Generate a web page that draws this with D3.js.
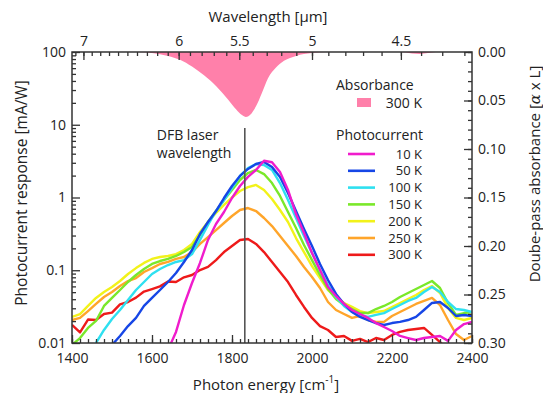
<!DOCTYPE html>
<html>
<head>
<meta charset="utf-8">
<script src="https://cdn.jsdelivr.net/npm/d3@7"></script>
<style>
  body { margin: 0; background: #fff; }
  text { font-family: "Open Sans", sans-serif; fill: #222; }
</style>
</head>
<body>
<div id="chart"></div>
<script>
// photon energy grid [cm^-1]
const wavenumber = [1400,1420,1440,1460,1480,1500,1520,1540,1560,1580,1600,1620,1640,1660,1680,1700,1720,1740,1760,1780,
  1800,1820,1840,1860,1880,1900,1920,1940,1960,1980,2000,2020,2040,2060,2080,2100,2120,2140,2160,2180,
  2200,2220,2240,2260,2280,2300,2320,2340,2360,2380,2400];

// photocurrent response [mA/W]
const pc10K = [null,null,null,null,null,null,null,null,null,null,null,null,
  0.0080,0.0142,0.0333,0.0668,0.126,0.261,0.432,0.632,0.984,1.44,1.92,2.39,3.2,3.05,2.24,1.27,0.593,0.325,
  0.173,0.101,0.0589,0.0443,0.0344,0.0284,0.0250,0.0221,0.0188,0.0166,0.0146,0.0125,0.0117,0.0110,0.0117,0.0121,0.0125,0.0107,0.0151,0.0182,0.0195];
const pc50K = [null,null,null,null,null,0.0094,0.0125,0.0171,0.0221,0.0323,0.0416,0.0535,0.0689,0.0917,0.130,0.190,0.315,0.460,0.652,0.984,
  1.44,1.98,2.47,2.89,3.08,2.62,1.92,1.15,0.652,0.369,0.215,0.122,0.0734,0.0472,0.0344,0.0267,0.0228,0.0207,0.0188,0.0177,
  0.0188,0.0195,0.0207,0.0228,0.0284,0.0355,0.0366,0.0303,0.0235,0.0243,0.0235];
const pc100K = [null,null,null,0.0100,0.0151,0.0214,0.0284,0.0390,0.0535,0.0689,0.0888,0.104,0.118,0.130,0.138,0.167,0.261,0.419,0.652,0.924,
  1.35,1.98,2.54,2.89,2.80,2.39,1.58,0.924,0.523,0.296,0.173,0.101,0.0627,0.0429,0.0323,0.0267,0.0243,0.0228,0.0243,0.0258,
  0.0293,0.0333,0.0378,0.0416,0.0502,0.0589,0.0502,0.0366,0.0293,0.0284,0.0267];
const pc150K = [0.0094,0.0117,0.0161,0.0201,0.0323,0.0416,0.0535,0.0689,0.0861,0.104,0.122,0.134,0.143,0.157,0.178,0.209,0.305,0.460,0.652,0.924,
  1.27,1.74,2.17,2.39,2.10,1.58,1.05,0.632,0.381,0.222,0.138,0.0861,0.0552,0.0402,0.0333,0.0293,0.0258,0.0258,0.0293,0.0323,
  0.0366,0.0429,0.0487,0.0552,0.0627,0.0711,0.0570,0.0355,0.0243,0.0258,0.0267];
const pc200K = [0.0228,0.0250,0.0323,0.0416,0.0502,0.0589,0.0711,0.0888,0.107,0.126,0.143,0.152,0.157,0.167,0.190,0.230,0.336,0.460,0.612,0.789,
  1.00,1.23,1.39,1.49,1.27,0.953,0.673,0.460,0.277,0.178,0.114,0.0782,0.0535,0.0429,0.0355,0.0313,0.0275,0.0258,0.0267,0.0275,
  0.0313,0.0355,0.0402,0.0457,0.0535,0.0607,0.0487,0.0303,0.0221,0.0207,0.0221];
const pc250K = [0.0207,0.0221,0.0275,0.0344,0.0429,0.0502,0.0607,0.0711,0.0782,0.0946,0.107,0.122,0.130,0.143,0.152,0.178,0.230,0.286,0.357,0.446,
  0.557,0.673,0.717,0.652,0.523,0.405,0.296,0.215,0.157,0.111,0.0807,0.0570,0.0366,0.0284,0.0250,0.0221,0.0235,0.0207,0.0195,0.0195,
  0.0235,0.0267,0.0303,0.0344,0.0378,0.0416,0.0333,0.0207,0.0133,0.0110,0.0125];
const pc300K = [0.0177,0.0140,0.0210,0.0207,0.0250,0.0262,0.0340,0.0366,0.0420,0.0510,0.0552,0.0600,0.0700,0.0690,0.0800,0.0860,0.1007,0.111,0.138,0.178,
  0.215,0.261,0.269,0.230,0.178,0.130,0.0946,0.0689,0.0457,0.0313,0.0221,0.0171,0.0151,0.0121,0.0125,0.0107,0.0114,0.0103,0.0117,0.0110,
  0.0129,0.0142,0.0151,0.0156,0.0161,0.0129,0.0103,0.0080,null,null,null];

const seriesNames = ["10 K", "50 K", "100 K", "150 K", "200 K", "250 K", "300 K"];
const seriesValues = [pc10K, pc50K, pc100K, pc150K, pc200K, pc250K, pc300K];
const seriesColors = ["#f01ccc", "#1646e6", "#2ee0f0", "#7ae82a", "#f2f21a", "#ffa52a", "#ee1a1a"];

// absorbance at 300 K (double-pass, alpha x L)
const absWavenumber = [1560,1600,1640,1670,1700,1730,1760,1790,1810,1825,1835,1845,1860,1875,1890,1910,1930,1960,2000,2040,2220,2250,2270,2290,2310];
const absValue = [0,0.001,0.004,0.008,0.015,0.024,0.035,0.049,0.059,0.065,0.067,0.065,0.056,0.042,0.027,0.016,0.009,0.004,0.001,0,0,0.0015,0.002,0.001,0];

const dfbWavenumber = 1832;

// axis ticks
const bottomTicks = [1400,1600,1800,2000,2200,2400];
const leftTicks = [0.01,0.1,1,10,100];
const leftLabels = ["0.01","0.1","1","10","100"];
const rightTicks = [0,0.05,0.10,0.15,0.20,0.25,0.30];
const topWavelengths = [7,6,5.5,5,4.5];
const topLabels = ["7","6","5.5","5","4.5"];

const width = 543, height = 393;
const margin = {top: 52, right: 71, bottom: 50, left: 72};
const plotW = width - margin.left - margin.right;
const plotH = height - margin.top - margin.bottom;

const svg = d3.select("#chart").append("svg")
  .attr("width", width).attr("height", height);

const g = svg.append("g").attr("transform", `translate(${margin.left},${margin.top})`);

const x = d3.scaleLinear().domain([1400, 2400]).range([0, plotW]);
const y = d3.scaleLog().domain([0.01, 100]).range([plotH, 0]);
const yAbs = d3.scaleLinear().domain([0, 0.30]).range([0, plotH]);

g.append("clipPath").attr("id", "clip")
  .append("rect").attr("width", plotW).attr("height", plotH);

const plot = g.append("g").attr("clip-path", "url(#clip)");

// absorbance area hanging from the top axis
const absData = absWavenumber.map((w, i) => ({w: w, v: absValue[i]}));
plot.append("path")
  .datum(absData)
  .attr("fill", "#ff80aa")
  .attr("d", d3.area().x(d => x(d.w)).y0(yAbs(0)).y1(d => yAbs(d.v)).curve(d3.curveMonotoneX));

// DFB laser line
g.append("line")
  .attr("x1", x(dfbWavenumber)).attr("x2", x(dfbWavenumber))
  .attr("y1", y(9)).attr("y2", plotH)
  .attr("stroke", "#555").attr("stroke-width", 1.6);

// photocurrent curves, 300 K drawn first
const line = d3.line()
  .defined(d => d.v != null)
  .x(d => x(d.w)).y(d => y(d.v));

for (let s = seriesValues.length - 1; s >= 0; s--) {
  const pts = wavenumber.map((w, i) => ({w: w, v: seriesValues[s][i]}));
  plot.append("path")
    .datum(pts)
    .attr("fill", "none")
    .attr("stroke", seriesColors[s])
    .attr("stroke-width", 2.4)
    .attr("stroke-linejoin", "round")
    .attr("d", line);
}

// axes
const minorLog = [];
[0.01, 0.1, 1, 10].forEach(dec => { for (let k = 2; k <= 9; k++) minorLog.push(dec * k); });
const minorX = [];
for (let w = 1400; w <= 2400; w += 20) minorX.push(w);
const minorAbs = [];
for (let a = 0; a <= 30; a++) minorAbs.push(a / 100);
const minorTop = [];
for (let l = 71; l >= 42; l--) minorTop.push(1e4 / (l / 10));

function styleAxis(sel) {
  sel.select(".domain").remove();
  sel.selectAll(".tick line").attr("stroke", "#333").attr("stroke-width", 1.3);
  sel.selectAll(".tick text")
    .attr("font-family", "Open Sans, sans-serif")
    .attr("font-size", 14).attr("fill", "#222");
}

g.append("g").call(d3.axisLeft(y).tickValues(minorLog).tickSize(-4).tickFormat("")).call(styleAxis);
g.append("g").call(d3.axisLeft(y).tickValues(leftTicks).tickSize(-8).tickPadding(6)
  .tickFormat((d, i) => leftLabels[i])).call(styleAxis);

g.append("g").attr("transform", `translate(0,${plotH})`)
  .call(d3.axisBottom(x).tickValues(minorX).tickSize(-4).tickFormat("")).call(styleAxis);
g.append("g").attr("transform", `translate(0,${plotH})`)
  .call(d3.axisBottom(x).tickValues(bottomTicks).tickSize(-8).tickPadding(10).tickFormat(d3.format("d"))).call(styleAxis);

g.append("g").attr("transform", `translate(${plotW},0)`)
  .call(d3.axisRight(yAbs).tickValues(minorAbs).tickSize(-4).tickFormat("")).call(styleAxis);
g.append("g").attr("transform", `translate(${plotW},0)`)
  .call(d3.axisRight(yAbs).tickValues(rightTicks).tickSize(-8).tickPadding(6).tickFormat(d3.format(".2f"))).call(styleAxis);

g.append("g")
  .call(d3.axisTop(x).tickValues(minorTop).tickSize(-4).tickFormat("")).call(styleAxis);
g.append("g")
  .call(d3.axisTop(x).tickValues(topWavelengths.map(l => 1e4 / l)).tickSize(-8).tickPadding(6)
    .tickFormat((d, i) => topLabels[i])).call(styleAxis);

g.append("rect")
  .attr("width", plotW).attr("height", plotH)
  .attr("fill", "none").attr("stroke", "#333").attr("stroke-width", 1.5);

// axis titles
svg.append("text")
  .attr("transform", `translate(27,193) rotate(-90)`)
  .attr("text-anchor", "middle").attr("font-size", 15.5)
  .text("Photocurrent response [mA/W]");

svg.append("text")
  .attr("transform", `translate(540,174) rotate(-90)`)
  .attr("text-anchor", "middle").attr("font-size", 15)
  .text("Doube-pass absorbance [")
  .call(t => { t.append("tspan").attr("font-style", "italic").attr("font-family", "DejaVu Serif, serif").text("α"); t.append("tspan").text(" x L]"); });

const xt = svg.append("text")
  .attr("x", 266).attr("y", 390)
  .attr("text-anchor", "middle").attr("font-size", 15)
  .text("Photon energy [cm");
xt.append("tspan").attr("baseline-shift", "super").attr("font-size", 10).text("-1");
xt.append("tspan").text("]");

svg.append("text")
  .attr("x", 268).attr("y", 22)
  .attr("text-anchor", "middle").attr("font-size", 15)
  .text("Wavelength [µm]");

// annotation
const ann = g.append("text").attr("font-size", 14);
ann.append("tspan").attr("x", x(1612)).attr("y", 88).text("DFB laser");
ann.append("tspan").attr("x", x(1612)).attr("y", 106).text("wavelength");

// legend
const legend = g.append("g").attr("transform", "translate(264,0)");
legend.append("text").attr("x", 0).attr("y", 38).attr("font-size", 14).text("Absorbance");
legend.append("rect").attr("x", 21).attr("y", 46).attr("width", 14).attr("height", 9).attr("fill", "#ff80aa");
legend.append("text").attr("x", 86).attr("y", 56).attr("text-anchor", "end").attr("font-size", 14).text("300 K");
legend.append("text").attr("x", 0).attr("y", 88).attr("font-size", 14).text("Photocurrent");

const items = legend.selectAll(".item")
  .data(seriesNames)
  .enter().append("g")
  .attr("transform", (d, i) => `translate(0,${102 + i * 16.8})`);
items.append("line")
  .attr("x1", 12).attr("x2", 39)
  .attr("stroke", (d, i) => seriesColors[i]).attr("stroke-width", 2.6);
items.append("text")
  .attr("x", 86).attr("y", 4.5).attr("text-anchor", "end").attr("font-size", 13)
  .text(d => d);
</script>
</body>
</html>
